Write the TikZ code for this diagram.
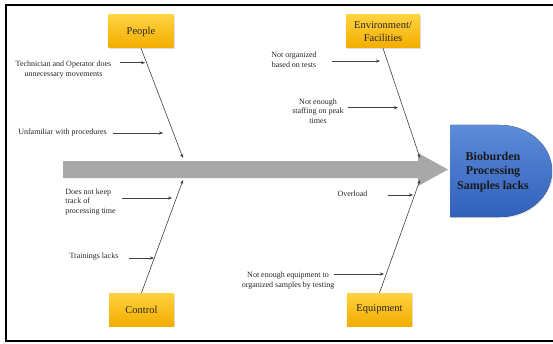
\documentclass[tikz,border=0pt]{standalone}
\usepackage{fontspec}
\setmainfont{Liberation Serif}
\usetikzlibrary{arrows.meta,shadows}

\definecolor{cattop}{HTML}{FFD23F}
\definecolor{catbot}{HTML}{F2AD00}
\definecolor{efftop}{HTML}{5D8CD8}
\definecolor{effbot}{HTML}{3160BC}
\definecolor{spinegray}{HTML}{A8A8A8}

\begin{document}
\begin{tikzpicture}[x=1pt,y=1pt,>={Stealth[length=4pt,width=3.2pt]}]

	\tikzstyle{cat}   = [rectangle, top color=cattop, bottom color=catbot, minimum height=33pt, minimum width=65pt, inner sep=1pt, align=center, text=black!85, font=\fontsize{10.5}{13}\selectfont, drop shadow={opacity=0.25, shadow xshift=1pt, shadow yshift=-1.2pt}]
	\tikzstyle{cause} = [align=center, inner sep=0pt, text=black!85, font=\fontsize{8}{9.5}\selectfont]
	\tikzstyle{bone}  = [draw=black!75, line width=0.6pt, ->]
	\tikzstyle{why}   = [draw=black!75, line width=0.5pt, ->]

	\useasboundingbox (0,0) rectangle (553,343);
	\draw [line width=2pt] (556,337.5) -- (6,337.5) -- (6,2) -- (556,2);

	% spine and head
	\coordinate (tail) at (63,173.5);
	\coordinate (tip) at (448,173.5);
	\fill [spinegray] (tail) ++(0,8.5) -- (418,182) -- (418,190) -- (tip) -- (418,157) -- (418,165) -- (63,165) -- cycle;
	\fill [top color=efftop, bottom color=effbot, drop shadow={opacity=0.2, shadow xshift=1pt, shadow yshift=-1pt}]
		(450,218) -- (500,218) arc[start angle=90, end angle=-90, x radius=52, y radius=46] -- (450,126) -- cycle;
	\node (effect) at (493,171) [align=center, text=black!90, font=\fontsize{12}{14.5}\selectfont\bfseries] {Bioburden\\Processing\\Samples lacks};

	% categories
	\node [cat] (people) at (141,311.5) {People};
	\node [cat, minimum width=74pt] (env) at (383,311.5) {Environment/\\Facilities};
	\node [cat] (ctrl) at (141.5,33.5) {Control};
	\node [cat] (equip) at (379.5,33.5) {Equipment};

	\coordinate (b1) at (183,185);
	\coordinate (b2) at (420,185);
	\coordinate (b3) at (183,163);
	\coordinate (b4) at (420,163);
	\draw [bone] (people.south) -- (b1);
	\draw [bone] (env.south) -- (b2);
	\draw [bone] (ctrl.north) -- (b3);
	\draw [bone] (equip.north) -- (b4);

	% causes
	\node [cause] (c1) at (63.5,273.5) {Technician and Operator does\\unnecessary movements};
	\node [cause] (c2) at (62.5,210.3) {Unfamiliar with procedures};
	\node [cause] (c3) at (294,283) {Not organized\\based on tests};
	\node [cause] (c4) at (318,232) {Not enough\\staffing on peak\\times};
	\node [cause, align=left] (c5) at (90.5,141) {Does not keep\\track of\\processing time};
	\node [cause] (c6) at (94,86) {Trainings lacks};
	\node [cause] (c7) at (352.5,149) {Overload};
	\node [cause] (c8) at (288,62.5) {Not enough equipment to\\organized samples by testing};

	\coordinate (c1s) at (120,280.3); \coordinate (c1e) at (145,280.3);
	\coordinate (c2s) at (113,210);   \coordinate (c2e) at (163,210);
	\coordinate (c3s) at (332,282);   \coordinate (c3e) at (380,282);
	\coordinate (c4s) at (348,235.3); \coordinate (c4e) at (398,235.3);
	\coordinate (c5s) at (122,145);   \coordinate (c5e) at (172,145);
	\coordinate (c6s) at (129,85);    \coordinate (c6e) at (154,85);
	\coordinate (c7s) at (388,148);   \coordinate (c7e) at (413,148);
	\coordinate (c8s) at (334,69);    \coordinate (c8e) at (384,69);
	\foreach \i in {1,...,8}
		\draw [why] (c\i s) -- (c\i e);

\end{tikzpicture}
\end{document}
